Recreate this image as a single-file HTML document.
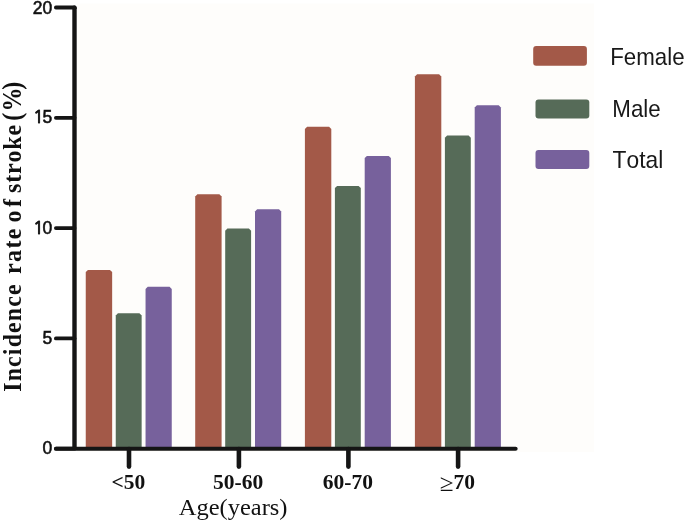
<!DOCTYPE html>
<html><head><meta charset="utf-8"><style>
html,body{margin:0;padding:0;background:#fff;}
body{width:685px;height:522px;overflow:hidden;position:relative;}
svg{position:absolute;left:0;top:0;}
text{font-kerning:none;}
.yl{font-family:"Liberation Sans",Arial,sans-serif;font-size:17.5px;fill:#111;stroke:#111;stroke-width:0.55px;}
.xl{font-family:"Liberation Serif","Times New Roman",serif;font-weight:bold;font-size:20.5px;fill:#111;}
.one{font-family:"NanumGothic",sans-serif;font-size:18px;stroke-width:0.9px;letter-spacing:-1.4px;}
.lg{font-family:"Liberation Sans",Arial,sans-serif;font-size:24px;fill:#181818;}
</style></head><body>
<svg width="685" height="522" viewBox="0 0 685 522">
<rect x="77" y="3.5" width="517" height="448.5" fill="#fefdfb"/>
<path d="M85.75 448.00V272.10L87.95 269.90H109.95L112.15 272.10V448.00Z" fill="#a35948"/>
<path d="M115.75 448.00V315.50L117.95 313.30H139.45L141.65 315.50V448.00Z" fill="#566b58"/>
<path d="M145.55 448.00V288.90L147.75 286.70H169.55L171.75 288.90V448.00Z" fill="#77619c"/>
<path d="M195.20 448.00V196.50L197.40 194.30H219.40L221.60 196.50V448.00Z" fill="#a35948"/>
<path d="M225.20 448.00V230.80L227.40 228.60H248.90L251.10 230.80V448.00Z" fill="#566b58"/>
<path d="M255.00 448.00V211.40L257.20 209.20H279.00L281.20 211.40V448.00Z" fill="#77619c"/>
<path d="M304.90 448.00V128.90L307.10 126.70H329.10L331.30 128.90V448.00Z" fill="#a35948"/>
<path d="M334.90 448.00V188.10L337.10 185.90H358.60L360.80 188.10V448.00Z" fill="#566b58"/>
<path d="M364.70 448.00V158.10L366.90 155.90H388.70L390.90 158.10V448.00Z" fill="#77619c"/>
<path d="M414.90 448.00V76.40L417.10 74.20H439.10L441.30 76.40V448.00Z" fill="#a35948"/>
<path d="M444.90 448.00V137.80L447.10 135.60H468.60L470.80 137.80V448.00Z" fill="#566b58"/>
<path d="M474.70 448.00V107.40L476.90 105.20H498.70L500.90 107.40V448.00Z" fill="#77619c"/>
<g stroke="#151515" stroke-width="4.4" fill="none">
<path d="M74.5 7.5V448.6" />
<line x1="56" y1="448.7" x2="515.6" y2="448.7" stroke-width="4.1" stroke-linecap="round"/>
</g>
<g stroke="#151515" stroke-width="3.8" fill="none" stroke-linecap="round">
<line x1="55.9" y1="7.50" x2="74.5" y2="7.50"/>
<line x1="55.9" y1="117.80" x2="74.5" y2="117.80"/>
<line x1="55.9" y1="228.10" x2="74.5" y2="228.10"/>
<line x1="55.9" y1="338.40" x2="74.5" y2="338.40"/>
<line x1="55.9" y1="448.70" x2="74.5" y2="448.70"/>
</g>
<path d="M72.3 7.5 A1.9 1.9 0 0 1 74.2 5.6 H74.6 A2.1 2.1 0 0 1 76.7 7.7 V9 H72.3Z" fill="#151515"/>
<g stroke="#151515" stroke-width="4.6" stroke-linecap="round">
<line x1="129.00" y1="449" x2="129.00" y2="466.6"/>
<line x1="238.90" y1="449" x2="238.90" y2="466.6"/>
<line x1="348.40" y1="449" x2="348.40" y2="466.6"/>
<line x1="458.10" y1="449" x2="458.10" y2="466.6"/>
</g>
<g class="yl" text-anchor="end">
<text x="52.2" y="13.6">20</text>
<text x="52.2" y="123.3"><tspan class="one">1</tspan>5</text>
<text x="52.2" y="233.6"><tspan class="one">1</tspan>0</text>
<text x="52.2" y="344.2">5</text>
<text x="52.2" y="454.3">0</text>
</g>
<g class="xl" text-anchor="middle">
<text transform="translate(128.45,488.5) scale(1.05,1)">&lt;50</text>
<text transform="translate(238.2,488.5) scale(1.05,1)">50-60</text>
<text transform="translate(347.95,488.5) scale(1.05,1)">60-70</text>
<text transform="translate(457.4,488.5) scale(1.05,1)"><tspan font-weight="normal" font-size="24" dy="2">≥</tspan><tspan dy="-2">70</tspan></text>
</g>
<text transform="translate(233.1,515) scale(1.02,1)" text-anchor="middle" font-family="Liberation Serif, Times New Roman, serif" font-size="24" fill="#111">Age(years)</text>
<g transform="translate(20.6,0) rotate(-90) scale(1,1.07)" font-family="Liberation Serif, Times New Roman, serif" font-weight="bold" font-size="24" fill="#111">
<text x="-391.8" y="0" textLength="107.5" lengthAdjust="spacing">Incidence</text>
<text x="-274" y="0" textLength="45.5" lengthAdjust="spacing">rate</text>
<text x="-222.5" y="0" textLength="23.5" lengthAdjust="spacing">of</text>
<text x="-193" y="0" textLength="68.2" lengthAdjust="spacing">stroke</text>
<text x="-120.8 -111.4 -89.8" y="0" transform="translate(0,0) scale(1,1.04)">(%)</text>
</g>
<rect x="533.2" y="46" width="53.7" height="19.8" rx="3" fill="#a35948"/>
<rect x="535.5" y="99.5" width="53.8" height="18.9" rx="3" fill="#566b58"/>
<rect x="535.5" y="150" width="53.8" height="19.1" rx="3" fill="#77619c"/>
<g class="lg">
<text transform="translate(610.2,64.5) scale(0.93,1)">Female</text>
<text transform="translate(612.3,116.9) scale(0.93,1)">Male</text>
<text transform="translate(612.6,167.9) scale(0.95,1)">Total</text>
</g>
</svg>
</body></html>
